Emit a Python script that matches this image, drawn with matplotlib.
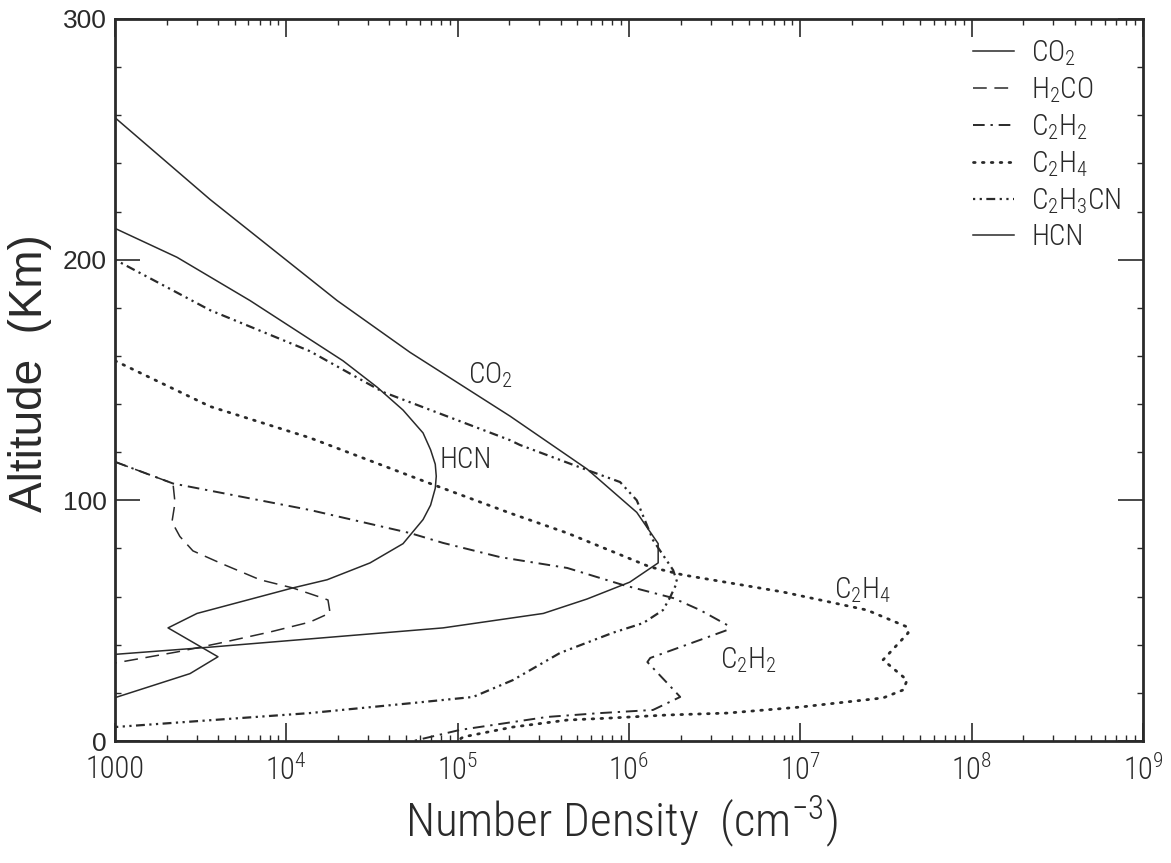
import matplotlib
matplotlib.use("Agg")
import matplotlib.pyplot as plt
from matplotlib import font_manager
from matplotlib.ticker import FixedLocator, MultipleLocator, NullFormatter, FixedFormatter

# number density (cm^-3) vs altitude (km)
co2_n = [1.0e3, 3.59e3, 1.98e4, 5.27e4, 2.02e5, 5.69e5, 1.11e6, 1.48e6, 1.48e6,
         1.01e6, 5.69e5, 3.16e5, 8.22e4, 3.59e3, 1.0e3]
co2_alt = [259, 225, 183, 161.5, 135, 113, 95, 82, 74, 66, 59, 53, 47, 39, 36]

h2co_n = [1.0e3, 2.18e3, 2.24e3, 2.15e3, 2.39e3, 2.85e3, 4.10e3, 7.02e3, 1.09e4,
          1.57e4, 1.75e4, 1.80e4, 1.37e4, 8.04e3, 4.10e3, 2.30e3, 1.0e3]
h2co_alt = [116, 107, 99, 91, 85, 79, 74, 67, 63.6, 59.8, 58.6, 53.2, 49.4, 45.3,
            40.7, 37, 32.4]

c2h2_n = [1.0e3, 2.18e3, 1.37e4, 5.27e4, 8.22e4, 1.77e5, 4.36e5, 9.25e5, 1.81e6,
          2.60e6, 3.74e6, 3.74e6, 2.60e6, 1.33e6, 1.28e6, 1.67e6, 1.99e6, 1.38e6,
          6.78e5, 3.33e5, 1.03e5, 5.50e4]
c2h2_alt = [116, 107, 96, 86.4, 82.3, 76.4, 71.9, 64.8, 59.4, 54.4, 48.2, 46.1, 42,
            34.5, 32.8, 24.1, 18.3, 12.9, 11.6, 10.0, 4.6, 0]

c2h4_n = [1.0e3, 3.59e3, 1.37e4, 6.90e4, 2.02e5, 4.36e5, 1.33e6, 2.07e6, 7.94e6,
          2.45e7, 4.20e7, 4.26e7, 3.04e7, 4.20e7, 3.98e7, 3.04e7, 9.98e6, 3.74e6,
          1.67e6, 8.07e5, 4.36e5, 2.10e5, 1.08e5, 9.9e4]
c2h4_alt = [158, 139, 126, 107, 94.7, 86.4, 72.3, 69, 61.9, 54.4, 47.4, 44.9, 33.7,
            25.3, 21.2, 17.9, 14.1, 11.6, 10.8, 9.6, 8.7, 5.8, 1.7, 0]

c2h3cn_n = [1.0e3, 3.59e3, 1.37e4, 3.67e4, 2.02e5, 2.31e5, 5.69e5, 8.87e5, 1.11e6,
            1.38e6, 1.81e6, 1.91e6, 1.74e6, 1.58e6, 1.21e6, 8.07e5, 3.96e5, 2.10e5,
            1.23e5, 5.50e4, 1.37e4, 1.0e3]
c2h3cn_alt = [200, 179, 162, 145, 125, 123, 112.6, 107.6, 100, 83.5, 71, 66, 59.8,
              54.4, 49, 45, 36.6, 25.3, 18.3, 15.8, 11.6, 5.8]

hcn_n = [1.0e3, 2.30e3, 6.14e3, 2.14e4, 3.39e4, 4.80e4, 6.28e4, 6.95e4, 7.40e4,
         7.50e4, 7.40e4, 6.95e4, 6.28e4, 4.80e4, 3.08e4, 1.73e4, 1.09e4, 3.01e3,
         2.04e3, 3.99e3, 2.74e3, 1.0e3]
hcn_alt = [213, 201, 183, 158, 147, 137.5, 128, 121, 115, 110, 105, 98, 92, 82, 74,
           67, 63.6, 53, 47, 35, 28, 18]

x_ticks = [1e3, 1e4, 1e5, 1e6, 1e7, 1e8, 1e9]
x_tick_labels = ["1000", "10$^4$", "10$^5$", "10$^6$", "10$^7$", "10$^8$", "10$^9$"]
y_ticks = [0, 100, 200, 300]


def pick(cands):
    have = {f.name for f in font_manager.fontManager.ttflist}
    for c in cands:
        if c in have:
            return c
    return "DejaVu Sans"


narrow = pick(["Liberation Sans Narrow", "Roboto Condensed", "Liberation Sans"])
plain = pick(["Liberation Sans", "Arial", "Roboto"])

plt.rcParams["font.family"] = [narrow, "DejaVu Sans"]
plt.rcParams["font.weight"] = "light"
plt.rcParams["mathtext.default"] = "regular"
ink = "#2a2a2a"

fig = plt.figure(figsize=(11.71, 8.63), dpi=100)
ax = fig.add_axes([115 / 1171, 1 - 741 / 863, 1028 / 1171, 722 / 863])

ax.plot(co2_n, co2_alt, color=ink, lw=1.1, ls="-", label="CO$_2$")
ax.plot(h2co_n, h2co_alt, color=ink, lw=1.1, ls=(0, (9, 5)), label="H$_2$CO")
ax.plot(c2h2_n, c2h2_alt, color=ink, lw=1.4, ls=(0, (6, 3, 1.2, 3)), label="C$_2$H$_2$")
ax.plot(c2h4_n, c2h4_alt, color=ink, lw=2.0, ls=(0, (0.6, 2.6)),
        dash_capstyle="round", label="C$_2$H$_4$")
ax.plot(c2h3cn_n, c2h3cn_alt, color=ink, lw=1.6, ls=(0, (1, 2, 1, 2, 4, 2)),
        label="C$_2$H$_3$CN")
ax.plot(hcn_n, hcn_alt, color=ink, lw=1.1, ls="-", label="HCN")

ax.set_xscale("log")
ax.set_xlim(1e3, 1e9)
ax.set_ylim(0, 300)

ax.xaxis.set_major_locator(FixedLocator(x_ticks))
ax.xaxis.set_major_formatter(FixedFormatter(x_tick_labels))
ax.xaxis.set_minor_locator(matplotlib.ticker.LogLocator(base=10, subs=range(2, 10)))
ax.xaxis.set_minor_formatter(NullFormatter())
ax.yaxis.set_major_locator(FixedLocator(y_ticks))
ax.yaxis.set_minor_locator(MultipleLocator(20))

ax.tick_params(axis="x", which="major", direction="in", length=13, width=1.2,
               top=True, labelsize=22, pad=10, colors=ink)
ax.tick_params(axis="x", which="minor", direction="in", length=4.5, width=1.0,
               top=True, colors=ink)
ax.tick_params(axis="y", which="major", direction="in", length=18, width=1.2,
               right=True, labelsize=19, pad=6, colors=ink)
ax.tick_params(axis="y", which="minor", direction="in", length=4.5, width=1.0,
               right=True, colors=ink)
for lab in ax.get_yticklabels():
    lab.set_fontfamily([plain, "DejaVu Sans"])
    lab.set_fontweight("normal")
for sp in ax.spines.values():
    sp.set_linewidth(2.0)
    sp.set_color(ink)

ax.set_ylabel("Altitude  (Km)", fontsize=33, family=[plain, "DejaVu Sans"],
              fontweight="normal", color=ink)
ax.yaxis.set_label_coords(-0.061, 0.51)
ax.set_xlabel("Number Density  (cm$^{-3}$)", fontsize=34, fontweight="light", color=ink)
ax.xaxis.set_label_coords(0.493, -0.073)

ax.text(1.55e5, 152, "CO$_2$", fontsize=21, ha="center", va="center", color=ink)
ax.text(1.12e5, 116.7, "HCN", fontsize=21, ha="center", va="center", color=ink)
ax.text(2.3e7, 62.7, "C$_2$H$_4$", fontsize=21, ha="center", va="center", color=ink)
ax.text(4.95e6, 33.7, "C$_2$H$_2$", fontsize=21, ha="center", va="center", color=ink)

ax.legend(loc="upper left", bbox_to_anchor=(0.8346, 0.9737), frameon=False,
          fontsize=21, borderpad=0, borderaxespad=0, handlelength=1.4,
          handletextpad=0.6, labelspacing=0.25, labelcolor=ink)

fig.savefig("out.png", dpi=100)
